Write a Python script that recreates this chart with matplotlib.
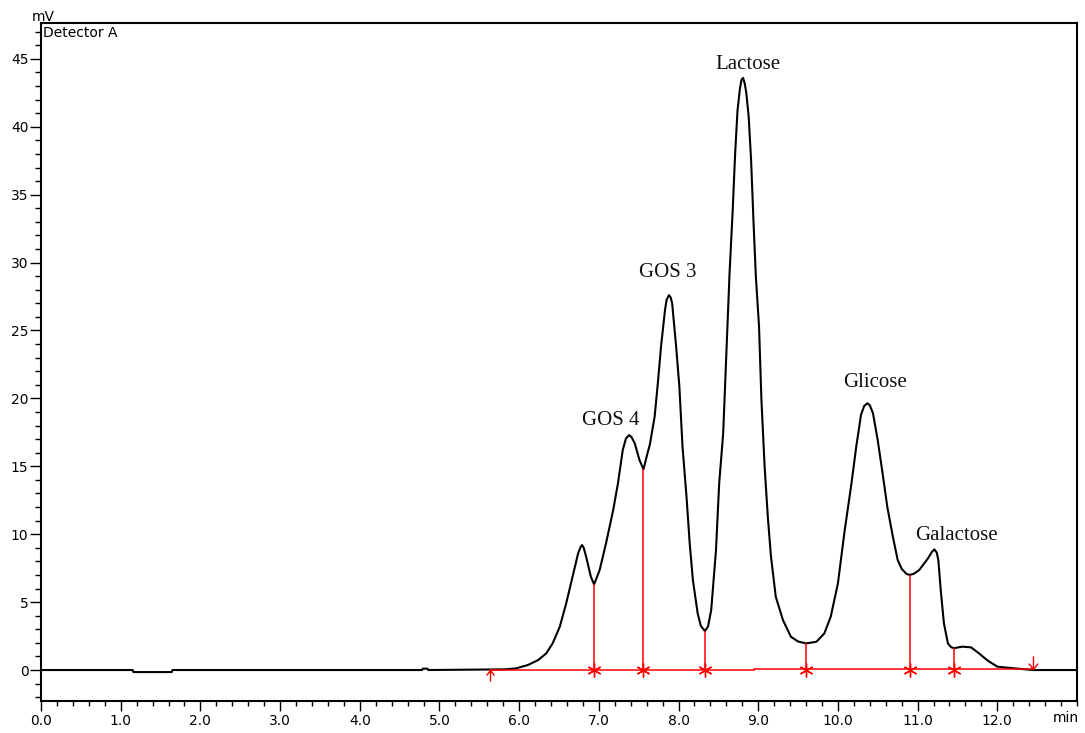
import matplotlib
matplotlib.use("Agg")
import matplotlib.pyplot as plt
import numpy as np
from matplotlib.path import Path
from matplotlib.ticker import MultipleLocator

# Detector trace (min, mV)
time = [0.0, 1.15, 1.16, 1.64, 1.65, 4.78, 4.79, 4.85, 4.86, 5.82, 5.96, 6.11,
        6.24, 6.34, 6.42, 6.51, 6.59, 6.67, 6.74, 6.77, 6.79, 6.81, 6.84, 6.90,
        6.94, 7.01, 7.09, 7.18, 7.24, 7.30, 7.34, 7.38, 7.41, 7.45, 7.51, 7.56,
        7.61, 7.64, 7.70, 7.74, 7.78, 7.83, 7.85, 7.88, 7.90, 7.92, 7.97, 8.01,
        8.05, 8.10, 8.14, 8.18, 8.24, 8.28, 8.33, 8.37, 8.41, 8.47, 8.51, 8.56,
        8.60, 8.64, 8.68, 8.71, 8.74, 8.77, 8.79, 8.81, 8.83, 8.85, 8.88, 8.91,
        8.94, 8.97, 9.01, 9.04, 9.08, 9.12, 9.16, 9.22, 9.31, 9.41, 9.50, 9.60,
        9.73, 9.83, 9.91, 10.00, 10.08, 10.17, 10.23, 10.29, 10.33, 10.37, 10.40,
        10.44, 10.50, 10.56, 10.62, 10.69, 10.75, 10.80, 10.86, 10.90, 10.95,
        11.02, 11.13, 11.18, 11.21, 11.24, 11.26, 11.29, 11.33, 11.38, 11.42,
        11.46, 11.50, 11.56, 11.67, 11.77, 11.88, 12.00, 12.13, 12.45, 13.0]
signal = [0.0, 0.0, -0.15, -0.15, 0.0, 0.0, 0.1, 0.1, 0.0, 0.05, 0.12, 0.37,
          0.74, 1.23, 1.96, 3.19, 4.90, 6.87, 8.59, 9.05, 9.20, 9.00, 8.35, 6.87,
          6.30, 7.36, 9.33, 11.78, 13.75, 16.20, 17.05, 17.30, 17.15, 16.70,
          15.46, 14.78, 15.95, 16.60, 18.65, 21.10, 23.80, 26.50, 27.25, 27.60,
          27.45, 27.00, 23.80, 20.90, 16.45, 12.76, 9.33, 6.63, 4.17, 3.25, 2.87,
          3.20, 4.42, 8.84, 13.75, 17.40, 23.30, 29.20, 33.90, 38.00, 41.20,
          42.80, 43.45, 43.60, 43.20, 42.50, 40.75, 37.60, 33.10, 29.00, 25.30,
          19.90, 15.00, 11.30, 8.35, 5.40, 3.68, 2.45, 2.10, 1.96, 2.08, 2.70,
          3.93, 6.38, 10.07, 13.75, 16.45, 18.80, 19.45, 19.64, 19.50, 18.90,
          16.90, 14.50, 12.00, 9.80, 8.10, 7.45, 7.08, 7.00, 7.08, 7.36, 8.22,
          8.70, 8.88, 8.65, 8.10, 5.90, 3.44, 1.96, 1.68, 1.60, 1.66, 1.72, 1.67,
          1.23, 0.69, 0.25, 0.17, 0.0, 0.0]

# Integration: peak boundaries (drop lines) and baseline start/end
drop_times = [6.94, 7.56, 8.33, 9.60, 10.90, 11.46]
drop_heights = [6.30, 14.78, 2.87, 1.96, 7.00, 1.60]
base_start, base_end, base_step = 5.63, 12.45, 8.95

peak_names = ["GOS 4", "GOS 3", "Lactose", "Glicose", "Galactose"]
label_x = [7.15, 7.87, 8.87, 10.46, 11.49]
label_y = [18.4, 29.3, 44.6, 21.2, 9.9]

fig = plt.figure(figsize=(10.85, 7.33), dpi=100)
ax = fig.add_axes([41 / 1085, 32 / 733, 1036 / 1085, 678 / 733])

ax.plot(time, signal, color="black", lw=1.5, zorder=2)

# baseline in two pieces with the small step
ax.plot([base_start, base_step], [0, 0], color="red", lw=1.1, zorder=3)
ax.plot([base_step, base_end], [0.08, 0.08], color="red", lw=1.1, zorder=3)
ax.vlines(drop_times, 0, drop_heights, color="red", lw=1.1, zorder=3)
ax.plot(drop_times, [0] * len(drop_times), ls="none", marker=(6, 2, 0),
        ms=10, mec="red", mew=1.0, zorder=4)

up_arrow = Path([(0, 0), (0, -1), (-0.35, -0.45), (0, 0), (0.35, -0.45)],
                [Path.MOVETO, Path.LINETO, Path.MOVETO, Path.LINETO, Path.LINETO])
down_arrow = Path([(0, 0), (0, 1), (-0.35, 0.45), (0, 0), (0.35, 0.45)],
                  [Path.MOVETO, Path.LINETO, Path.MOVETO, Path.LINETO, Path.LINETO])
ax.plot([base_start], [0], marker=up_arrow, ms=16, mfc="none", mec="red",
        mew=1.0, zorder=4)
ax.plot([base_end], [0.08], marker=down_arrow, ms=19, mfc="none", mec="red",
        mew=1.0, zorder=4)

for name, lx, ly in zip(peak_names, label_x, label_y):
    ax.text(lx, ly, name, ha="center", va="center", fontsize=15,
            family="Liberation Serif", color="#111111")

ax.set_xlim(0, 13)
ax.set_ylim(-2.28, 47.64)
ax.set_xticks(np.arange(0, 13))
ax.set_xticklabels([f"{v:.1f}" for v in range(13)])
ax.xaxis.set_minor_locator(MultipleLocator(0.2))
ax.set_yticks(np.arange(0, 50, 5))
ax.yaxis.set_minor_locator(MultipleLocator(1))

ax.tick_params(axis="x", which="major", direction="out", length=7, width=1,
               labelsize=10, pad=2.5)
ax.tick_params(axis="x", which="minor", direction="out", length=3.5, width=1)
ax.tick_params(axis="y", which="major", direction="out", length=8, width=1,
               labelsize=10, pad=1)
ax.tick_params(axis="y", which="minor", direction="out", length=4, width=1)
for sp in ax.spines.values():
    sp.set_linewidth(1.5)

ax.text(12.7, -0.015, "min", transform=ax.get_xaxis_transform(),
        ha="left", va="top", fontsize=10)
fig.text(32 / 1085, 1 - 24 / 733, "mV", ha="left", va="bottom", fontsize=10)
ax.text(0.002, 0.995, "Detector A", transform=ax.transAxes, ha="left",
        va="top", fontsize=10)

fig.savefig("out.png", dpi=100)
